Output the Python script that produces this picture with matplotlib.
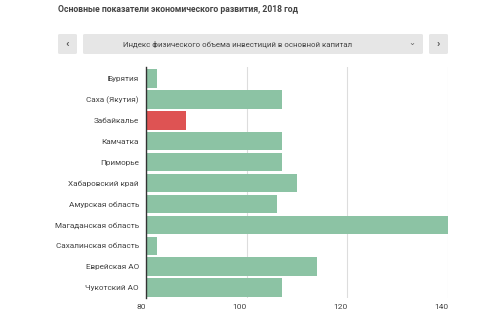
import matplotlib
matplotlib.use("Agg")
import matplotlib.pyplot as plt
from matplotlib.patches import FancyBboxPatch
import matplotlib.transforms as mtransforms

regions = ["Бурятия", "Саха (Якутия)", "Забайкалье", "Камчатка", "Приморье",
           "Хабаровский край", "Амурская область", "Магаданская область",
           "Сахалинская область", "Еврейская АО", "Чукотский АО"]
values = [82.1, 107.1, 88.0, 107.1, 107.0, 110.0, 106.0, 142.0, 82.1, 114.0, 107.0]
highlight = "Забайкалье"
xticks = [80, 100, 120, 140]

title = "Основные показатели экономического развития, 2018 год"
selector = "Индекс физического объема инвестиций в основной капитал"

plt.rcParams['font.family'] = ['Roboto', 'DejaVu Sans']

W, H = 480, 314
fig = plt.figure(figsize=(W / 100, H / 100), dpi=100)
fig.patch.set_facecolor("white")

def fx(px):
    return px / W

def fy(py):
    return 1 - py / H

# Title
fig.text(fx(58), fy(10), title, fontsize=6.2, fontweight="bold", color="#444444",
         ha="left", va="center")

# Selector bar
for x0, x1 in [(58, 77), (83, 423), (429, 448)]:
    p = FancyBboxPatch((fx(x0), fy(54)), fx(x1 - x0), (54 - 34) / H,
                       boxstyle="round,pad=0,rounding_size=0.004",
                       transform=fig.transFigure, facecolor="#e6e6e6",
                       edgecolor="none")
    fig.patches.append(p)
fig.text(fx(238), fy(44), selector, fontsize=5.7, color="#444444", ha="center", va="center")
fig.text(fx(67.5), fy(44.5), "‹", fontsize=8, color="#555555", ha="center", va="center",
         fontweight="bold")
fig.text(fx(438.5), fy(44.5), "›", fontsize=8, color="#555555", ha="center", va="center",
         fontweight="bold")
fig.text(fx(412), fy(47), "⌄", fontsize=6, color="#666666", ha="center", va="bottom",
         family=['DejaVu Sans'])

# Chart axes
left, right, top, bottom = 146, 448, 67, 298
ax = fig.add_axes([fx(left), fy(bottom), fx(right - left), (bottom - top) / H])
colors = ["#de5353" if r == highlight else "#8cc3a4" for r in regions]
ypos = list(range(len(regions)))
ax.barh(ypos, values, height=0.88, color=colors, zorder=2)
ax.set_xlim(80, 140)
ax.set_ylim(10.5, -0.55)
ax.set_yticks(ypos)
ax.set_yticklabels(regions, fontsize=5.9, color="#444444")
ax.set_xticks(xticks)
ax.set_xticklabels([str(t) for t in xticks], fontsize=6.0, color="#444444", ha="right")
offset = mtransforms.ScaledTranslation(-3 / 100, 0, fig.dpi_scale_trans)
for lbl in ax.get_xticklabels():
    lbl.set_transform(lbl.get_transform() + offset)
ax.tick_params(axis="both", length=0, pad=4)
ax.tick_params(axis="y", pad=5)
ax.grid(axis="x", color="#dddddd", linewidth=0.8, zorder=0)
for s in ["top", "right", "bottom"]:
    ax.spines[s].set_visible(False)
ax.spines["left"].set_color("#333333")
ax.spines["left"].set_linewidth(1.0)
ax.spines["left"].set_zorder(3)
ax.set_facecolor("white")

fig.savefig("out.png", dpi=100, facecolor="white")
